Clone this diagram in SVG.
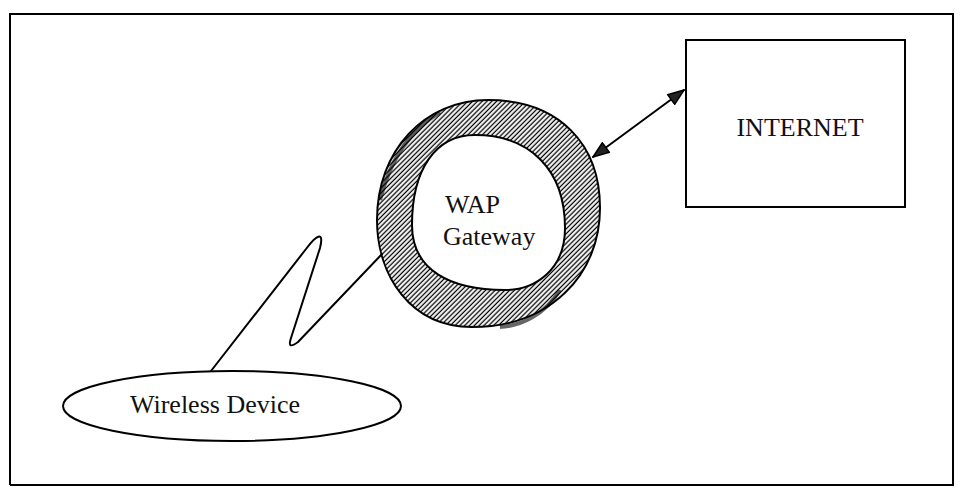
<svg xmlns="http://www.w3.org/2000/svg" width="962" height="489" viewBox="0 0 962 489">
<defs>
<style>
.ln{fill:none;stroke:#000;stroke-width:2;stroke-linejoin:round;stroke-linecap:round}
.tx{font-family:"Liberation Serif","Times New Roman",serif;font-size:26px;fill:#111}
</style>
<pattern id="hatch" patternUnits="userSpaceOnUse" width="3.4" height="3.4" patternTransform="rotate(-45)">
<rect width="3.4" height="3.4" fill="#fff"/>
<line x1="0" y1="1.2" x2="3.4" y2="1.2" stroke="#000" stroke-width="1.3"/>
</pattern>
<marker id="ah" viewBox="0 0 18 14" refX="17" refY="7" markerWidth="18" markerHeight="14" markerUnits="userSpaceOnUse" orient="auto-start-reverse">
<path d="M1,1 L17,7 L1,13 Z" fill="#222" stroke="#000" stroke-width="1.5" stroke-linejoin="round"/>
</marker>
</defs>
<rect width="962" height="489" fill="#fff"/>
<g id="frame">
<path d="M10,485 L10,14 L953,14 L953,485 L10,485" fill="none" stroke="#000" stroke-width="2"/>
</g>
<g id="internet">
<rect x="686" y="40" width="219" height="167" fill="#fff" stroke="#000" stroke-width="2"/>
<text class="tx" x="800" y="136" text-anchor="middle">INTERNET</text>
</g>
<g id="gateway">
<path fill-rule="evenodd" fill="url(#hatch)" stroke="#000" stroke-width="2" d="M488,100 C560,100 600,145 600,208 C600,275 550,327 472,327 C410,327 377,275 377,220 C377,150 425,100 488,100 Z M475,135 C530,135 565,170 565,228 C565,270 535,290 505,290 C450,290 412,270 412,225 C412,170 435,135 475,135 Z"/>
<path d="M380,200 C390,160 410,130 440,112" fill="none" stroke="#000" stroke-width="4" opacity="0.6"/>
<path d="M560,290 C545,315 520,326 500,327" fill="none" stroke="#000" stroke-width="4" opacity="0.6"/>
<text class="tx" x="445" y="213">WAP</text>
<text class="tx" x="443" y="245">Gateway</text>
</g>
<g id="wireless">
<ellipse cx="232" cy="406" rx="169" ry="35" fill="#fff" stroke="#000" stroke-width="2"/>
<text class="tx" x="215" y="413" text-anchor="middle">Wireless Device</text>
</g>
<g id="connectors">
<path class="ln" d="M211,371 L306,249 C318,233 324,232 320,248 L291,338 C288,347 291,347 298,342 L382,254"/>
<line class="ln" x1="593" y1="157" x2="684" y2="90" marker-start="url(#ah)" marker-end="url(#ah)"/>
</g>
</svg>
